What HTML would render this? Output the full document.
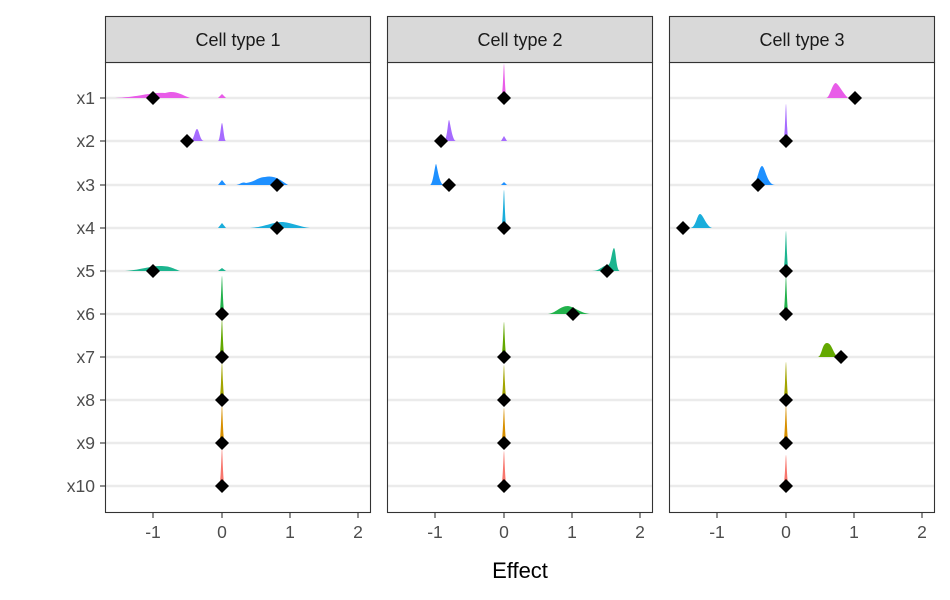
<!DOCTYPE html>
<html><head><meta charset="utf-8"><style>body{margin:0;background:#fff}svg{display:block}</style></head>
<body>
<svg width="950" height="600" xmlns="http://www.w3.org/2000/svg" font-family="Liberation Sans, sans-serif">
<defs>
<g id="grid">
<g stroke="#ebebeb" stroke-width="2.5">
<line x1="0" x2="265" y1="98" y2="98"/><line x1="0" x2="265" y1="141" y2="141"/><line x1="0" x2="265" y1="185" y2="185"/><line x1="0" x2="265" y1="228" y2="228"/><line x1="0" x2="265" y1="271" y2="271"/><line x1="0" x2="265" y1="314" y2="314"/><line x1="0" x2="265" y1="357" y2="357"/><line x1="0" x2="265" y1="400" y2="400"/><line x1="0" x2="265" y1="443" y2="443"/><line x1="0" x2="265" y1="486" y2="486"/>
</g></g>
<path id="d" d="M0,-7 L7,0 L0,7 L-7,0 Z" fill="#000"/>
</defs>
<!-- panels -->
<g transform="translate(105,0)"><use href="#grid"/></g>
<g transform="translate(387,0)"><use href="#grid"/></g>
<g transform="translate(669,0)"><use href="#grid"/></g>

<!-- Panel 1 -->
<g>
<path d="M115,98 C140,97 150,92 165,93 C175,90 180,94 190,98 Z" fill="#E85CE8"/>
<path d="M218,98 L222,94 L226,98 Z" fill="#E85CE8"/>
<path d="M190,141 C194,141 195,129 197,129 C199,129 200,141 204,141 Z" fill="#A66BFF"/>
<path d="M218,141 C220,141 221,123 222,123 C223,123 224,141 226,141 Z" fill="#A66BFF"/>
<path d="M218,185 L222,180 L226,185 Z" fill="#1E90FF"/>
<path d="M235,185 C240,185 242,181 246,183 C255,182 258,177 265,177 C275,175 280,180 288,185 Z" fill="#1E90FF"/>
<path d="M218,228 L222,223 L226,228 Z" fill="#1AADDB"/>
<path d="M250,228 C265,227 272,222 283,222 C293,223 300,227 310,228 Z" fill="#1AADDB"/>
<path d="M125,271 C140,270 150,266 160,266 C170,266 172,268 180,271 Z" fill="#1CB58F"/>
<path d="M218,271 L222,268 L226,271 Z" fill="#1CB58F"/>
<path d="M219,314 C221,314 221.5,276 222,276 C222.5,276 223,314 225,314 Z" fill="#22B24C"/>
<path d="M219,357 C221,357 221.5,319 222,319 C222.5,319 223,357 225,357 Z" fill="#63A800"/>
<path d="M219,400 C221,400 221.5,362 222,362 C222.5,362 223,400 225,400 Z" fill="#A3A500"/>
<path d="M219,443 C221,443 221.5,405 222,405 C222.5,405 223,443 225,443 Z" fill="#D89000"/>
<path d="M219,486 C221,486 221.5,448 222,448 C222.5,448 223,486 225,486 Z" fill="#F8766D"/>
<use href="#d" x="153" y="98"/><use href="#d" x="187" y="141"/><use href="#d" x="277" y="185"/><use href="#d" x="277" y="228"/><use href="#d" x="153" y="271"/>
<use href="#d" x="222" y="314"/><use href="#d" x="222" y="357"/><use href="#d" x="222" y="400"/><use href="#d" x="222" y="443"/><use href="#d" x="222" y="486"/>
</g>

<!-- Panel 2 -->
<g>
<path d="M501,98 C503,98 503.5,64 504,64 C504.5,64 505,98 507,98 Z" fill="#E85CE8"/>
<path d="M444,141 C447,141 448,120 449,120 C450,120 452,141 456,141 Z" fill="#A66BFF"/>
<path d="M501,141 L504,136 L507,141 Z" fill="#A66BFF"/>
<path d="M430,185 C433,185 435,164 436,164 C437,164 439,185 444,185 Z" fill="#1E90FF"/>
<path d="M501,185 L504,182 L507,185 Z" fill="#1E90FF"/>
<path d="M501,228 C503,228 503.5,190 504,190 C504.5,190 505,228 507,228 Z" fill="#1AADDB"/>
<path d="M592,271 C600,271 603,265 608,265 C611,265 612,249 614,248 C616,249 616,271 620,271 Z" fill="#1CB58F"/>
<path d="M548,314 C556,313 560,306 568,306 C575,307 580,313 590,314 Z" fill="#22B24C"/>
<path d="M501,357 C503,357 503.5,322 504,322 C504.5,322 505,357 507,357 Z" fill="#63A800"/>
<path d="M501,400 C503,400 503.5,365 504,365 C504.5,365 505,400 507,400 Z" fill="#A3A500"/>
<path d="M501,443 C503,443 503.5,408 504,408 C504.5,408 505,443 507,443 Z" fill="#D89000"/>
<path d="M501,486 C503,486 503.5,451 504,451 C504.5,451 505,486 507,486 Z" fill="#F8766D"/>
<use href="#d" x="504" y="98"/><use href="#d" x="441" y="141"/><use href="#d" x="449" y="185"/><use href="#d" x="504" y="228"/><use href="#d" x="607" y="271"/>
<use href="#d" x="573" y="314"/><use href="#d" x="504" y="357"/><use href="#d" x="504" y="400"/><use href="#d" x="504" y="443"/><use href="#d" x="504" y="486"/>
</g>

<!-- Panel 3 -->
<g>
<path d="M826,98 C830,98 832,83 836,83 C840,86 842,92 848,98 Z" fill="#E85CE8"/>
<path d="M783,141 C785,141 785.5,104 786,104 C786.5,104 787,141 789,141 Z" fill="#A66BFF"/>
<path d="M752,185 C757,185 759,166 762,166 C765,166 767,185 775,185 Z" fill="#1E90FF"/>
<path d="M690,228 C696,228 697,214 700,214 C703,214 706,226 712,228 Z" fill="#1AADDB"/>
<path d="M783,271 C785,271 785.5,231 786,231 C786.5,231 787,271 789,271 Z" fill="#1CB58F"/>
<path d="M783,314 C785,314 785.5,276 786,276 C786.5,276 787,314 789,314 Z" fill="#22B24C"/>
<path d="M818,357 C822,356 822,343 827,343 C832,343 833,354 838,357 Z" fill="#63A800"/>
<path d="M783,400 C785,400 785.5,362 786,362 C786.5,362 787,400 789,400 Z" fill="#A3A500"/>
<path d="M783,443 C785,443 785.5,405 786,405 C786.5,405 787,443 789,443 Z" fill="#D89000"/>
<path d="M783,486 C785,486 785.5,455 786,455 C786.5,455 787,486 789,486 Z" fill="#F8766D"/>
<use href="#d" x="855" y="98"/><use href="#d" x="786" y="141"/><use href="#d" x="758" y="185"/><use href="#d" x="683" y="228"/><use href="#d" x="786" y="271"/>
<use href="#d" x="786" y="314"/><use href="#d" x="841" y="357"/><use href="#d" x="786" y="400"/><use href="#d" x="786" y="443"/><use href="#d" x="786" y="486"/>
</g>

<!-- panel borders and strips -->
<g fill="none" stroke="#333" stroke-width="1.1">
<rect x="105.5" y="62.5" width="265" height="450"/>
<rect x="387.5" y="62.5" width="265" height="450"/>
<rect x="669.5" y="62.5" width="265" height="450"/>
</g>
<g fill="#d9d9d9" stroke="#333" stroke-width="1.1">
<rect x="105.5" y="16.5" width="265" height="46"/>
<rect x="387.5" y="16.5" width="265" height="46"/>
<rect x="669.5" y="16.5" width="265" height="46"/>
</g>
<g font-size="18" fill="#1a1a1a" text-anchor="middle">
<text x="238" y="46">Cell type 1</text>
<text x="520" y="46">Cell type 2</text>
<text x="802" y="46">Cell type 3</text>
</g>
<!-- y axis -->
<g stroke="#333" stroke-width="1.1">
<line x1="100" x2="105" y1="98" y2="98"/><line x1="100" x2="105" y1="141" y2="141"/><line x1="100" x2="105" y1="185" y2="185"/><line x1="100" x2="105" y1="228" y2="228"/><line x1="100" x2="105" y1="271" y2="271"/><line x1="100" x2="105" y1="314" y2="314"/><line x1="100" x2="105" y1="357" y2="357"/><line x1="100" x2="105" y1="400" y2="400"/><line x1="100" x2="105" y1="443" y2="443"/><line x1="100" x2="105" y1="486" y2="486"/>
</g>
<g font-size="17.5" fill="#4d4d4d" text-anchor="end">
<text x="95" y="104">x1</text><text x="95" y="147">x2</text><text x="95" y="191">x3</text><text x="95" y="234">x4</text><text x="95" y="277">x5</text><text x="95" y="320">x6</text><text x="95" y="363">x7</text><text x="95" y="406">x8</text><text x="95" y="449">x9</text><text x="95" y="492">x10</text>
</g>
<!-- x axes -->
<g stroke="#333" stroke-width="1.1">
<line x1="153" x2="153" y1="513" y2="518"/><line x1="222" x2="222" y1="513" y2="518"/><line x1="290" x2="290" y1="513" y2="518"/><line x1="358" x2="358" y1="513" y2="518"/>
<line x1="435" x2="435" y1="513" y2="518"/><line x1="504" x2="504" y1="513" y2="518"/><line x1="572" x2="572" y1="513" y2="518"/><line x1="640" x2="640" y1="513" y2="518"/>
<line x1="717" x2="717" y1="513" y2="518"/><line x1="786" x2="786" y1="513" y2="518"/><line x1="854" x2="854" y1="513" y2="518"/><line x1="922" x2="922" y1="513" y2="518"/>
</g>
<g font-size="17.5" fill="#4d4d4d" text-anchor="middle">
<text x="153" y="538">-1</text><text x="222" y="538">0</text><text x="290" y="538">1</text><text x="358" y="538">2</text>
<text x="435" y="538">-1</text><text x="504" y="538">0</text><text x="572" y="538">1</text><text x="640" y="538">2</text>
<text x="717" y="538">-1</text><text x="786" y="538">0</text><text x="854" y="538">1</text><text x="922" y="538">2</text>
</g>
<text x="520" y="578" font-size="22" text-anchor="middle" fill="#000">Effect</text>
</svg>
</body></html>
